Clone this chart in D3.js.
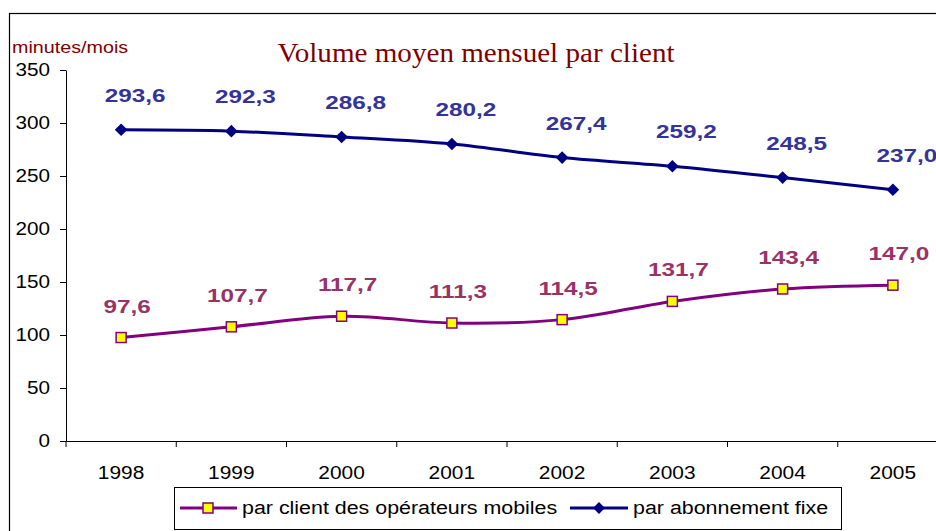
<!DOCTYPE html>
<html>
<head>
<meta charset="utf-8">
<script src="https://cdn.jsdelivr.net/npm/d3@7"></script>
<style>
  body { margin: 0; background: #fff; }
  svg { display: block; }
</style>
</head>
<body>
<script>
const years = ["1998", "1999", "2000", "2001", "2002", "2003", "2004", "2005"];
const mobile = [97.6, 107.7, 117.7, 111.3, 114.5, 131.7, 143.4, 147.0];
const fixe = [293.6, 292.3, 286.8, 280.2, 267.4, 259.2, 248.5, 237.0];
const yTicks = [0, 50, 100, 150, 200, 250, 300, 350];
const seriesNames = ["par client des opérateurs mobiles", "par abonnement fixe"];

const width = 936, height = 531;
const margin = { left: 66, right: -12, top: 70, bottom: 90 };
const sans = "Liberation Sans, Arial, sans-serif";

const svg = d3.select("body").append("svg")
    .attr("width", width)
    .attr("height", height);

// frame, only top and left edges fall inside the picture
svg.append("rect")
    .attr("x", 9.5).attr("y", 13.5)
    .attr("width", 1000).attr("height", 600)
    .attr("fill", "none").attr("stroke", "#000").attr("stroke-width", 1.2);

const x = d3.scaleBand()
    .domain(years)
    .range([margin.left, width - margin.right]);

const y = d3.scaleLinear()
    .domain([0, 350])
    .range([height - margin.bottom, margin.top]);

const fmt = v => d3.format(".1f")(v).replace(".", ",");
const cx = d => x(d) + x.bandwidth() / 2;

// text placed at (px,py) and widened a bit, the source fonts run wide
function wideText(sel, px, py, sx) {
    return sel.attr("x", 0).attr("y", 0)
        .attr("transform", (d, i) => `translate(${px(d, i)},${py(d, i)}) scale(${sx},1)`);
}

// y axis
const yAxis = svg.append("g")
    .attr("transform", `translate(${margin.left},0)`)
    .call(d3.axisLeft(y).tickValues(yTicks).tickSize(6).tickPadding(8).tickSizeOuter(0));
yAxis.selectAll("line").attr("stroke", "#000");
yAxis.selectAll("text")
    .attr("font-family", sans)
    .attr("font-size", 18).attr("fill", "#000")
    .attr("transform", "scale(1.15,1)");

// x axis, ticks sit between categories
const xAxis = svg.append("g")
    .attr("transform", `translate(0,${y(0)})`)
    .call(d3.axisBottom(x).tickSize(0).tickPadding(0));
xAxis.select(".domain").attr("stroke", "#000");
xAxis.selectAll("text")
    .attr("font-family", sans)
    .attr("font-size", 19).attr("fill", "#000")
    .attr("dy", 0).attr("y", 38)
    .attr("transform", "scale(1.1,1)");
svg.append("g")
    .selectAll("line")
    .data(years)
    .join("line")
    .attr("x1", d => x(d)).attr("x2", d => x(d))
    .attr("y1", y(0)).attr("y2", y(0) + 6)
    .attr("stroke", "#000");

// titles
svg.append("text")
    .attr("font-family", "Liberation Serif, Times New Roman, serif")
    .attr("font-size", 28)
    .attr("text-anchor", "middle")
    .attr("fill", "#800000")
    .attr("transform", "translate(476,62) scale(1.04,1)")
    .text("Volume moyen mensuel par client");

svg.append("text")
    .attr("font-family", sans)
    .attr("font-size", 17)
    .attr("fill", "#800000")
    .attr("transform", "translate(12,53) scale(1.16,1)")
    .text("minutes/mois");

const line = d3.line()
    .x((d, i) => cx(years[i]))
    .y(d => y(d))
    .curve(d3.curveCatmullRom);

// fixed line
svg.append("path")
    .datum(fixe)
    .attr("d", line)
    .attr("fill", "none")
    .attr("stroke", "#000080")
    .attr("stroke-width", 3);

svg.append("g")
    .selectAll("path")
    .data(fixe)
    .join("path")
    .attr("d", d3.symbol().type(d3.symbolSquare).size(80))
    .attr("transform", (d, i) => `translate(${cx(years[i])},${y(d)}) rotate(45)`)
    .attr("fill", "#000080");

// mobile line
svg.append("path")
    .datum(mobile)
    .attr("d", line)
    .attr("fill", "none")
    .attr("stroke", "#800080")
    .attr("stroke-width", 3);

svg.append("g")
    .selectAll("rect")
    .data(mobile)
    .join("rect")
    .attr("x", (d, i) => cx(years[i]) - 5)
    .attr("y", d => y(d) - 5)
    .attr("width", 10).attr("height", 10)
    .attr("fill", "#ffff00")
    .attr("stroke", "#800080")
    .attr("stroke-width", 1.5);

// data labels
svg.append("g")
    .selectAll("text")
    .data(fixe)
    .join("text")
    .call(wideText, (d, i) => cx(years[i]) + 14, d => y(d) - 28, 1.28)
    .attr("text-anchor", "middle")
    .attr("font-family", sans)
    .attr("font-weight", "bold")
    .attr("font-size", 19)
    .attr("fill", "#333399")
    .text(fmt);

svg.append("g")
    .selectAll("text")
    .data(mobile)
    .join("text")
    .call(wideText, (d, i) => cx(years[i]) + 6, d => y(d) - 25, 1.28)
    .attr("text-anchor", "middle")
    .attr("font-family", sans)
    .attr("font-weight", "bold")
    .attr("font-size", 19)
    .attr("fill", "#993366")
    .text(fmt);

// legend
const legend = svg.append("g");
legend.append("rect")
    .attr("x", 174.5).attr("y", 487.5)
    .attr("width", 667).attr("height", 42)
    .attr("fill", "#fff").attr("stroke", "#000");

const lg1 = legend.append("g").attr("transform", "translate(180,508)");
lg1.append("line").attr("x1", 0).attr("x2", 57)
    .attr("stroke", "#800080").attr("stroke-width", 3);
lg1.append("rect").attr("x", 23).attr("y", -5).attr("width", 10).attr("height", 10)
    .attr("fill", "#ffff00").attr("stroke", "#800080").attr("stroke-width", 1.5);
lg1.append("text")
    .attr("font-family", sans).attr("font-size", 18).attr("fill", "#000")
    .attr("transform", "translate(62,6) scale(1.19,1)")
    .text(seriesNames[0]);

const lg2 = legend.append("g").attr("transform", "translate(570,508)");
lg2.append("line").attr("x1", 0).attr("x2", 58)
    .attr("stroke", "#000080").attr("stroke-width", 3);
lg2.append("path").attr("d", d3.symbol().type(d3.symbolSquare).size(70))
    .attr("transform", "translate(29,0) rotate(45)").attr("fill", "#000080");
lg2.append("text")
    .attr("font-family", sans).attr("font-size", 18).attr("fill", "#000")
    .attr("transform", "translate(63,6) scale(1.19,1)")
    .text(seriesNames[1]);
</script>
</body>
</html>
